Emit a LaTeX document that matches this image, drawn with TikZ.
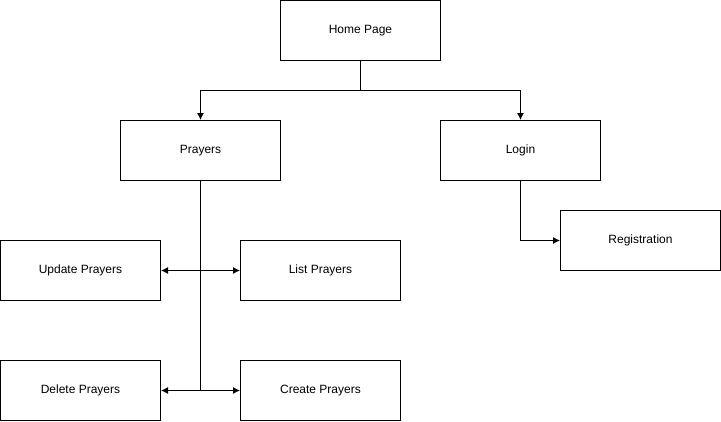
\documentclass[tikz,border=0pt]{standalone}
\usepackage{fontspec}
\setmainfont{Liberation Sans}
\usetikzlibrary{arrows.meta}
\begin{document}
\begin{tikzpicture}[x=1pt,y=-1pt,
  box/.style={draw,line width=1pt,minimum width=160pt,minimum height=60pt,inner sep=0pt,font=\fontsize{12}{14}\selectfont},
  conn/.style={line width=1pt,-{Latex[length=7pt,width=7pt]}},
  line/.style={line width=1pt}]
\useasboundingbox (0,0) rectangle (721,421);
\node[box] (home) at (360.5,30.5) {Home Page};
\node[box] (prayers) at (200.5,150.5) {Prayers};
\node[box] (login) at (520.5,150.5) {Login};
\node[box] (reg) at (640.5,240.5) {Registration};
\node[box] (upd) at (80.5,270.5) {Update Prayers};
\node[box] (list) at (320.5,270.5) {List Prayers};
\node[box] (del) at (80.5,390.5) {Delete Prayers};
\node[box] (create) at (320.5,390.5) {Create Prayers};
\coordinate (hj) at (360.5,90.5);
\coordinate (j1) at (200.5,270.5);
\coordinate (j2) at (200.5,390.5);
\draw[line] (home.south) -- (hj);
\draw[conn] (hj) -| (prayers.north);
\draw[conn] (hj) -| (login.north);
\draw[conn] (login.south) |- (reg.west);
\draw[line] (prayers.south) -- (j2);
\draw[conn] (j1) -- (upd.east);
\draw[conn] (j1) -- (list.west);
\draw[conn] (j2) -- (del.east);
\draw[conn] (j2) -- (create.west);
\end{tikzpicture}
\end{document}
